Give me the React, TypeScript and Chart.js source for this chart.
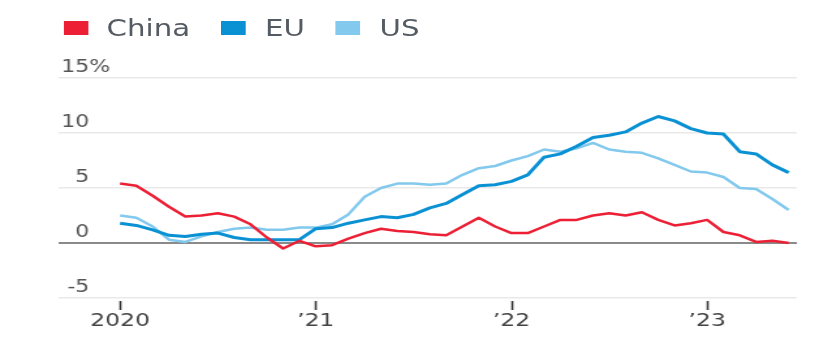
import React, { useEffect, useRef } from "react";
import { Chart, registerables } from "chart.js";

Chart.register(...registerables);

// Monthly, Jan 2020 – Jun 2023 (year-over-year inflation, %)
const months = [
  "2020-01","2020-02","2020-03","2020-04","2020-05","2020-06","2020-07","2020-08","2020-09","2020-10","2020-11","2020-12",
  "2021-01","2021-02","2021-03","2021-04","2021-05","2021-06","2021-07","2021-08","2021-09","2021-10","2021-11","2021-12",
  "2022-01","2022-02","2022-03","2022-04","2022-05","2022-06","2022-07","2022-08","2022-09","2022-10","2022-11","2022-12",
  "2023-01","2023-02","2023-03","2023-04","2023-05","2023-06",
];
const china = [
  5.4, 5.2, 4.3, 3.3, 2.4, 2.5, 2.7, 2.4, 1.7, 0.5, -0.5, 0.2,
  -0.3, -0.2, 0.4, 0.9, 1.3, 1.1, 1.0, 0.8, 0.7, 1.5, 2.3, 1.5,
  0.9, 0.9, 1.5, 2.1, 2.1, 2.5, 2.7, 2.5, 2.8, 2.1, 1.6, 1.8,
  2.1, 1.0, 0.7, 0.1, 0.2, 0.0,
];
const eu = [
  1.8, 1.6, 1.2, 0.7, 0.6, 0.8, 0.9, 0.5, 0.3, 0.3, 0.3, 0.3,
  1.3, 1.4, 1.8, 2.1, 2.4, 2.3, 2.6, 3.2, 3.6, 4.4, 5.2, 5.3,
  5.6, 6.2, 7.8, 8.1, 8.8, 9.6, 9.8, 10.1, 10.9, 11.5, 11.1, 10.4,
  10.0, 9.9, 8.3, 8.1, 7.1, 6.4,
];
const us = [
  2.5, 2.3, 1.5, 0.3, 0.1, 0.6, 1.0, 1.3, 1.4, 1.2, 1.2, 1.4,
  1.4, 1.7, 2.6, 4.2, 5.0, 5.4, 5.4, 5.3, 5.4, 6.2, 6.8, 7.0,
  7.5, 7.9, 8.5, 8.3, 8.6, 9.1, 8.5, 8.3, 8.2, 7.7, 7.1, 6.5,
  6.4, 6.0, 5.0, 4.9, 4.0, 3.0,
];
const seriesNames = ["China", "EU", "US"];
const seriesColors = ["#ec1f35", "#0a91d3", "#82c9ed"];
const xTickPositions = [0, 12, 24, 36];
const xTickLabels = ["2020", "\u201921", "\u201922", "\u201923"];
const yTicks = [-5, 0, 5, 10, 15];
const yTickLabels = ["-5", "0", "5", "10", "15%"];

const STRETCH = 1.3;
const W = 825 / STRETCH;

// Short dark tick marks below the axis, placed through the x scale
const tickMarks = {
  id: "tickMarks",
  afterDraw(chart: any) {
    const { ctx, scales } = chart;
    const x = scales.x;
    const top = x.top + 3;
    ctx.save();
    ctx.strokeStyle = "#333";
    ctx.lineWidth = 1.6;
    xTickPositions.forEach((v) => {
      const px = Math.round(x.getPixelForValue(v)) + 0.5;
      ctx.beginPath();
      ctx.moveTo(px, top);
      ctx.lineTo(px, top + 9);
      ctx.stroke();
    });
    ctx.restore();
  },
};

// Y labels: numbers right-aligned, sitting above their grid lines; "%" hangs after the top one
const yLabels = {
  id: "yLabels",
  afterDraw(chart: any) {
    const { ctx, scales, chartArea } = chart;
    const y = scales.y;
    const rightEdge = chartArea.left + 24;
    ctx.save();
    ctx.font = '17px "DejaVu Sans"';
    ctx.fillStyle = "#555";
    ctx.textBaseline = "middle";
    yTicks.forEach((v, i) => {
      const py = y.getPixelForValue(v) - 10;
      const label = yTickLabels[i];
      const hasPct = label.endsWith("%");
      const num = hasPct ? label.slice(0, -1) : label;
      ctx.textAlign = "right";
      ctx.fillText(num, rightEdge, py);
      if (hasPct) {
        ctx.textAlign = "left";
        ctx.fillText("%", rightEdge, py);
      }
    });
    ctx.restore();
  },
};

export default function App() {
  const canvasRef = useRef<HTMLCanvasElement | null>(null);

  useEffect(() => {
    if (!canvasRef.current) return;
    const values = [china, eu, us];
    const chart = new Chart(canvasRef.current, {
      type: "line",
      data: {
        datasets: values.map((arr, k) => ({
          label: seriesNames[k],
          data: arr.map((v, i) => ({ x: i, y: v, m: months[i] })),
          borderColor: seriesColors[k],
          backgroundColor: seriesColors[k],
          borderWidth: k === 1 ? 3 : 2.5,
          pointRadius: 0,
          tension: 0,
          borderJoinStyle: "round",
          order: k === 2 ? 3 : k === 1 ? 2 : 1,
        })),
      },
      plugins: [tickMarks, yLabels],
      options: {
        animation: false,
        responsive: true,
        maintainAspectRatio: false,
        layout: { padding: { left: 44.6, right: W - 612, top: 78, bottom: 0 } },
        plugins: { legend: { display: false }, tooltip: { enabled: false } },
        scales: {
          x: {
            type: "linear",
            min: -3.8,
            max: 41.5,
            afterBuildTicks: (s: any) => {
              s.ticks = xTickPositions.map((v) => ({ value: v }));
            },
            afterFit: (s: any) => {
              s.height = 45;
            },
            border: { display: false },
            grid: {
              drawOnChartArea: false,
              drawTicks: true,
              tickLength: 12,
              tickColor: "rgba(0,0,0,0)",
            },
            ticks: {
              autoSkip: false,
              maxRotation: 0,
              padding: 1,
              color: "#444",
              font: { family: "DejaVu Sans", size: 18 },
              callback: (v: any) => {
                const idx = xTickPositions.indexOf(Number(v));
                return idx >= 0 ? xTickLabels[idx] : "";
              },
            },
          },
          y: {
            min: -5,
            max: 15,
            afterBuildTicks: (s: any) => {
              s.ticks = yTicks.map((v) => ({ value: v }));
            },
            afterFit: (s: any) => {
              s.width = 0;
            },
            border: { display: false },
            grid: {
              drawTicks: false,
              color: (ctx: any) => (ctx.tick && ctx.tick.value === 0 ? "#8a8a8a" : "#e9e9e9"),
              lineWidth: (ctx: any) => (ctx.tick && ctx.tick.value === 0 ? 2 : 1.6),
            },
            ticks: { display: false },
          },
        },
      },
    } as any);
    return () => chart.destroy();
  }, []);

  return (
    <div
      style={{
        position: "fixed",
        left: 0,
        top: 0,
        width: W,
        height: 343,
        transform: `scaleX(${STRETCH})`,
        transformOrigin: "0 0",
        background: "#fff",
      }}
    >
      <div
        style={{
          position: "absolute",
          left: 48.5,
          top: 15,
          display: "flex",
          alignItems: "center",
          fontFamily: "DejaVu Sans",
          fontSize: 22.5,
          lineHeight: "26px",
          color: "#555b63",
          whiteSpace: "nowrap",
          zIndex: 2,
        }}
      >
        {seriesNames.map((n, k) => (
          <span key={n} style={{ display: "flex", alignItems: "center", marginRight: 24 }}>
            <span
              style={{
                display: "inline-block",
                width: 19,
                height: 14,
                background: seriesColors[k],
                marginRight: 14.5,
              }}
            />
            <span>{n}</span>
          </span>
        ))}
      </div>
      <div style={{ position: "absolute", left: 0, top: 0, width: "100%", height: "100%" }}>
        <canvas ref={canvasRef} />
      </div>
    </div>
  );
}
